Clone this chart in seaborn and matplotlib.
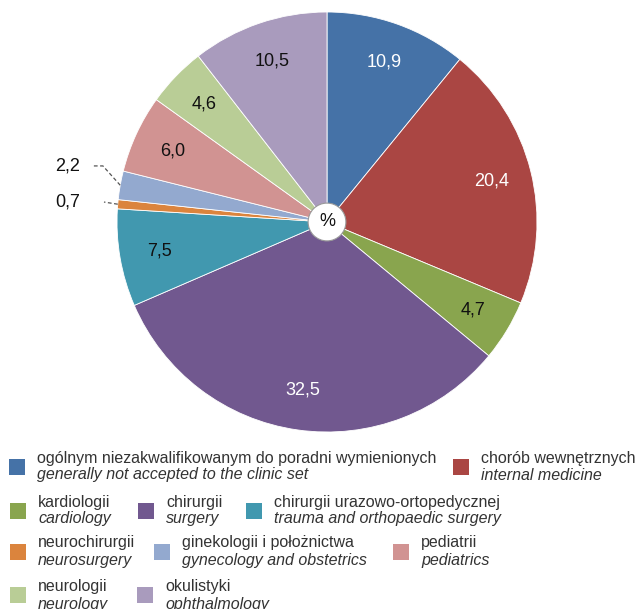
import numpy as np
import matplotlib
matplotlib.use("Agg")
import matplotlib.pyplot as plt
from matplotlib.patches import Rectangle, Circle
import seaborn as sns

# Share of referrals by clinic type (%)
labels_pl = [
    "ogólnym niezakwalifikowanym do poradni wymienionych",
    "chorób wewnętrznych",
    "kardiologii",
    "chirurgii",
    "chirurgii urazowo-ortopedycznej",
    "neurochirurgii",
    "ginekologii i położnictwa",
    "pediatrii",
    "neurologii",
    "okulistyki",
]
labels_en = [
    "generally not accepted to the clinic set",
    "internal medicine",
    "cardiology",
    "surgery",
    "trauma and orthopaedic surgery",
    "neurosurgery",
    "gynecology and obstetrics",
    "pediatrics",
    "neurology",
    "ophthalmology",
]
values = [10.9, 20.4, 4.7, 32.5, 7.5, 0.7, 2.2, 6.0, 4.6, 10.5]
value_text = ["10,9", "20,4", "4,7", "32,5", "7,5", "0,7", "2,2", "6,0", "4,6", "10,5"]
colors = ["#4572A7", "#AA4643", "#89A54E", "#71588F", "#4198AF",
          "#DB843D", "#93A9CF", "#D19392", "#B9CD96", "#A99BBD"]

sns.set_theme(style="white")
plt.rcParams["font.family"] = ["Liberation Sans", "DejaVu Sans"]
palette = sns.color_palette(colors)

W, H = 640, 609
fig = plt.figure(figsize=(W / 100, H / 100), dpi=100)

# pie centre and radius in pixels
cx, cy, R = 327, 222, 210
ax = fig.add_axes([(cx - R) / W, (H - cy - R) / H, 2 * R / W, 2 * R / H])

wedges, _ = ax.pie(values, colors=palette, startangle=90, counterclock=False,
                   wedgeprops=dict(edgecolor="white", linewidth=0.6))
ax.set_xlim(-1, 1)
ax.set_ylim(-1, 1)
ax.set_aspect("equal")
ax.axis("off")

inside_white = {0, 1, 3}
outside = {5, 6}
for i, w in enumerate(wedges):
    ang = np.deg2rad((w.theta1 + w.theta2) / 2)
    if i in outside:
        continue
    r = 0.81
    ax.text(r * np.cos(ang), r * np.sin(ang), value_text[i],
            ha="center", va="center", fontsize=13,
            color="white" if i in inside_white else "#111111")

# small slices labelled outside with dashed leaders
leaders = {6: [(-1.067, 0.267), (-1.114, 0.267)], 5: [(-1.062, 0.095)]}
for i, pts in leaders.items():
    w = wedges[i]
    ang = np.deg2rad((w.theta1 + w.theta2) / 2)
    xs = [np.cos(ang)] + [p[0] for p in pts]
    ys = [np.sin(ang)] + [p[1] for p in pts]
    ax.plot(xs, ys, ls=(0, (3, 2)), color="#555555", lw=0.9, clip_on=False)
    ax.text(-1.176, pts[-1][1], value_text[i], ha="right", va="center",
            fontsize=13, color="#111111")

# centre badge
ax.add_patch(Circle((0, 0), 0.09, facecolor="white", edgecolor="#999999",
                    lw=0.8, zorder=5))
ax.text(0, 0, "%", ha="center", va="center", fontsize=13, color="#111111", zorder=6)

# legend laid out in rows below the pie
sq_x = [9, 453, 10, 138, 246, 10, 154, 393, 10, 137]
row = [0, 0, 1, 1, 1, 2, 2, 2, 3, 3]
line1_y = [458, 502, 543, 586]
line2_y = [475, 519, 561, 604]
sq = 16
for i in range(len(values)):
    r_ = row[i]
    yc = (line1_y[r_] + line2_y[r_]) / 2
    fig.add_artist(Rectangle((sq_x[i] / W, 1 - (yc + sq / 2) / H), sq / W, sq / H,
                             transform=fig.transFigure, facecolor=palette[i],
                             edgecolor="none"))
    tx = (sq_x[i] + 28) / W
    fig.text(tx, 1 - line1_y[r_] / H, labels_pl[i], ha="left", va="center",
             fontsize=11.5, color="#333333")
    fig.text(tx, 1 - line2_y[r_] / H, labels_en[i], ha="left", va="center",
             fontsize=11.5, color="#333333", style="italic")

fig.savefig("out.png", dpi=100)
